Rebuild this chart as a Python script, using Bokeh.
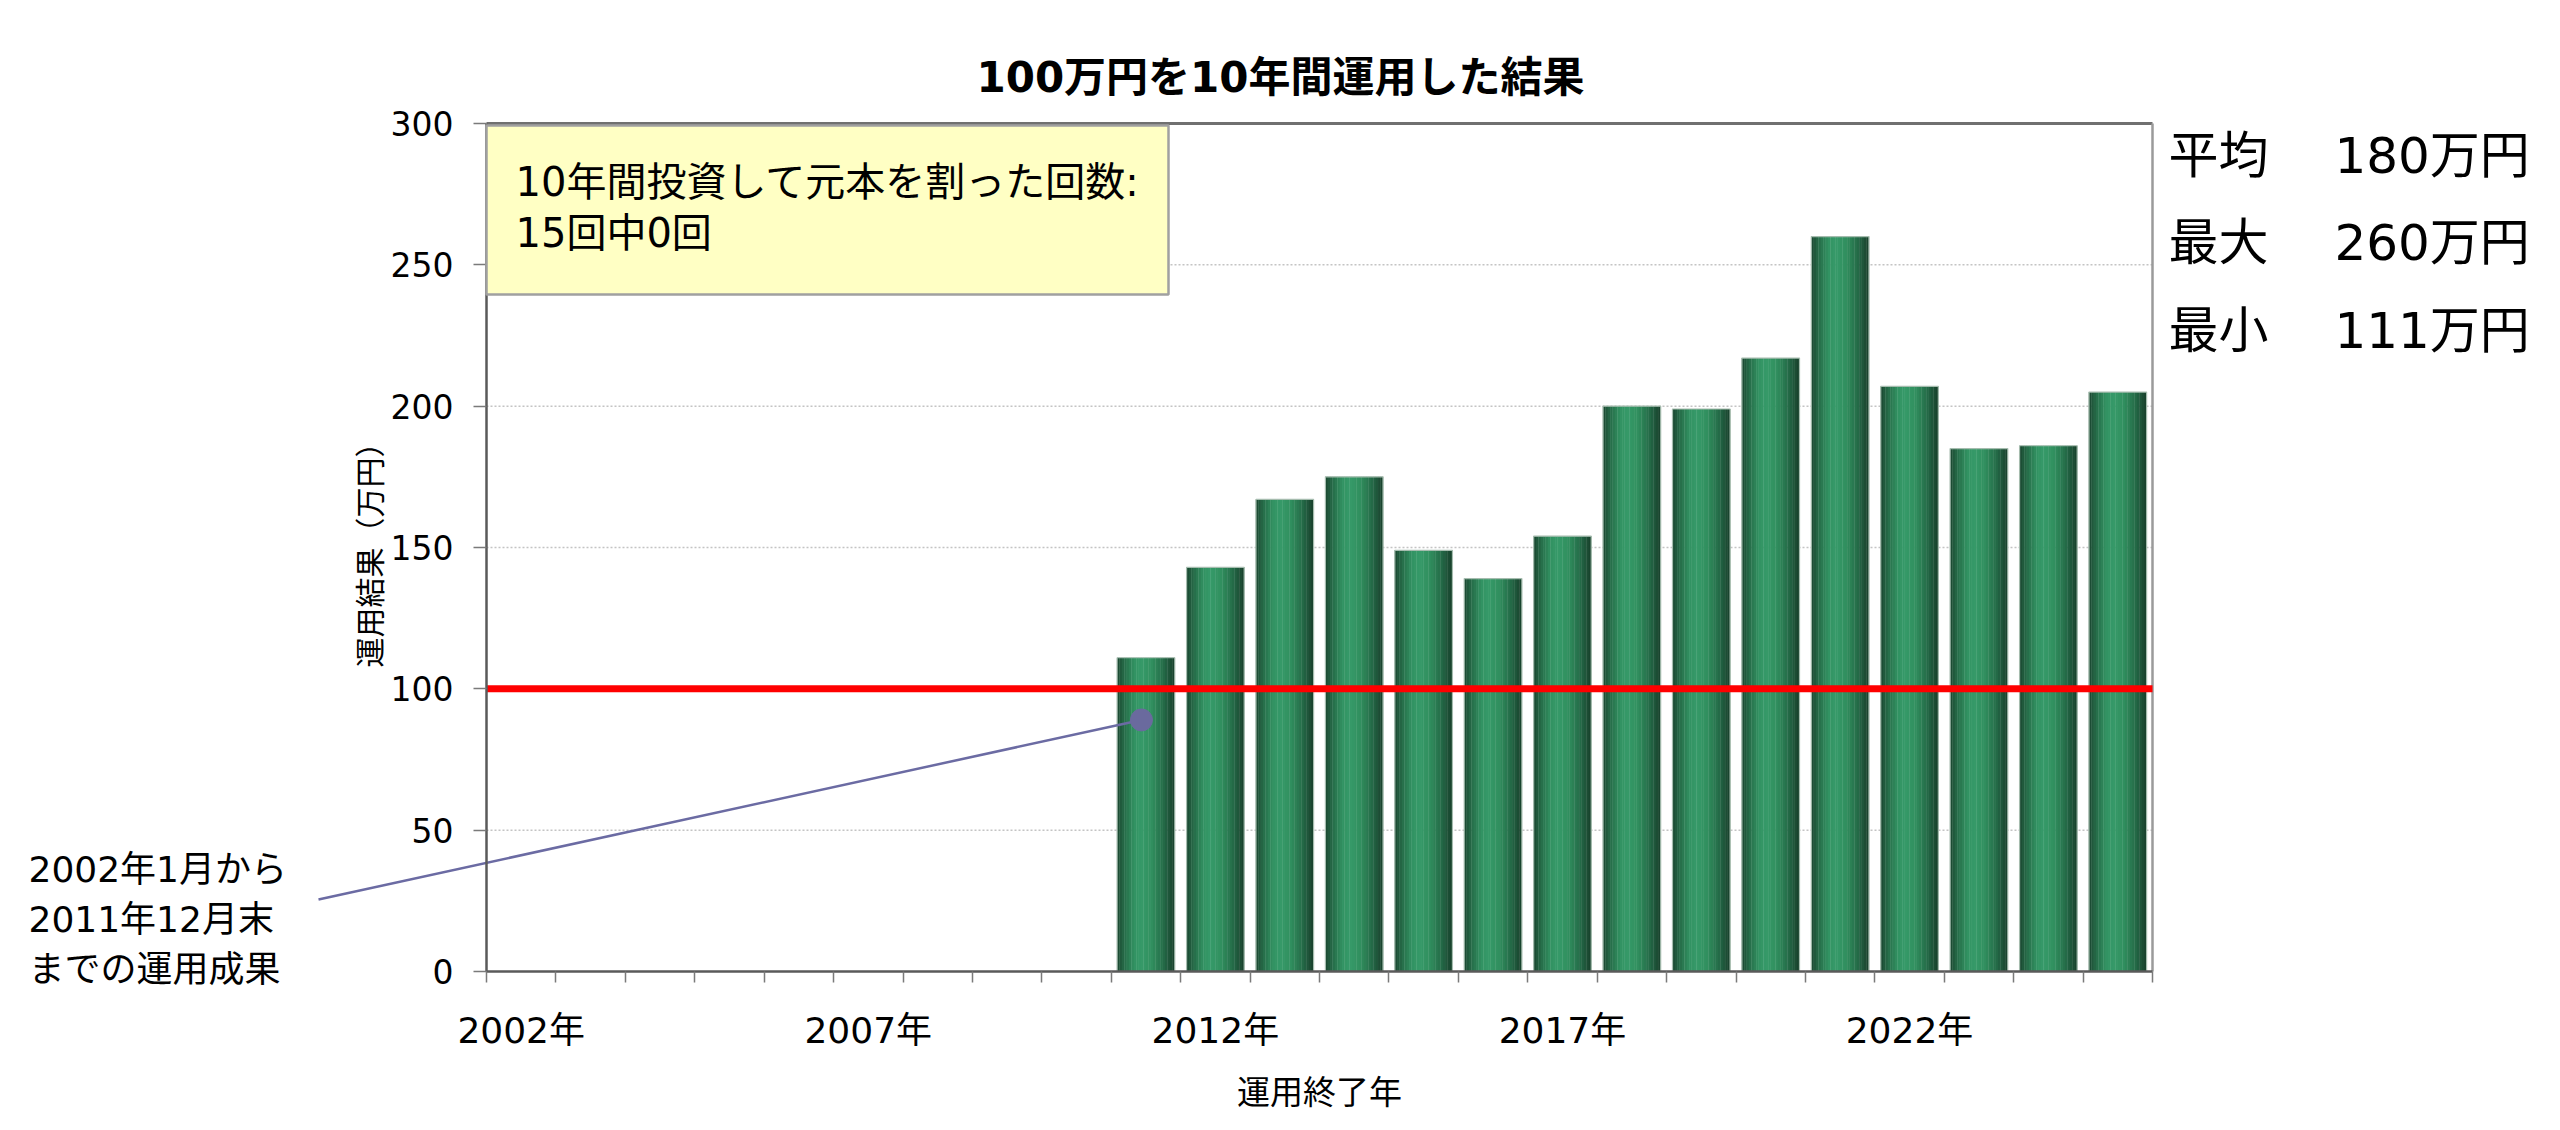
import numpy as np
from bokeh.plotting import figure
from bokeh.models import (Range1d, FixedTicker, BoxAnnotation, Label, CustomJSTickFormatter)
from bokeh.embed import file_html
from bokeh.resources import INLINE

# ---------------- data ----------------
first_year = 2002
last_year = 2025
end_years = [2011, 2012, 2013, 2014, 2015, 2016, 2017, 2018, 2019, 2020, 2021, 2022, 2023, 2024, 2025]
results = [111, 143, 167, 175, 149, 139, 154, 200, 199, 217, 260, 207, 185, 186, 205]
label_years = [2002, 2007, 2012, 2017, 2022]
y_ticks = [0, 50, 100, 150, 200, 250, 300]
principal = 100
title_text = "100万円を10年間運用した結果"
y_label = "運用結果（万円）"
x_label = "運用終了年"
callout_text = "2002年1月から\n2011年12月末\nまでの運用成果"
callout_year = 2011
callout_value = 89

FONT = "DejaVu Sans, Noto Sans CJK JP"

# ---------------- layout (pixel targets of the chart box) ----------------
W, H = 2560, 1130
TOP = 103                     # frame top (title sits above)
BOX_L, BOX_R = 486, 2152      # x pixel of slot 0 edge / last slot edge
BOX_T, BOX_B = 123, 971       # y pixel of 300 / 0

n_slots = last_year - first_year + 1
y_max = y_ticks[-1]
ppx = (BOX_R - BOX_L) / n_slots
ppy = (BOX_B - BOX_T) / y_max

def px2x(px):
    return (px - BOX_L) / ppx

def px2y(py):
    return (BOX_B - py) / ppy

xs = np.array([y - first_year + 0.5 for y in end_years], dtype=float)
vals = np.array(results, dtype=float)

below = int(np.sum(vals < principal))
note_text = f"10年間投資して元本を割った回数:\n{len(results)}回中{below}回"
stats = [("平均", round(float(vals.mean()))), ("最大", round(float(vals.max()))), ("最小", round(float(vals.min())))]

p = figure(width=W, height=H,
           x_range=Range1d(px2x(0), px2x(W)), y_range=Range1d(px2y(H), px2y(TOP)),
           output_backend="svg", toolbar_location=None,
           min_border_left=0, min_border_right=0, min_border_top=TOP, min_border_bottom=0)
p.background_fill_color = "white"
p.border_fill_color = "white"
p.outline_line_color = None
p.grid.visible = False

# title
p.title.text = title_text
p.title.text_font = FONT
p.title.text_font_size = "42px"
p.title.text_font_style = "bold"
p.title.align = "center"
p.title.standoff = 4
p.title.text_color = "#000000"

# y axis (fixed at x = 0)
ya = p.yaxis[0]
ya.fixed_location = 0
ya.bounds = (0, y_max)
ya.ticker = FixedTicker(ticks=y_ticks, minor_ticks=[])
ya.axis_line_color = "#5a5a5a"
ya.axis_line_width = 2.5
ya.major_tick_line_color = "#7a7a7a"
ya.major_tick_line_width = 1.5
ya.major_tick_out = 13
ya.major_tick_in = 0
ya.minor_tick_line_color = None
ya.major_label_text_font = FONT
ya.major_label_text_font_size = "33px"
ya.major_label_text_color = "#000000"
ya.major_label_standoff = 20
ya.axis_label = y_label
ya.axis_label_text_font = FONT
ya.axis_label_text_font_size = "30px"
ya.axis_label_text_font_style = "normal"
ya.axis_label_text_color = "#000000"
ya.axis_label_standoff = 0

# x axis (fixed at y = 0): labels at slot centers, tick marks at slot edges
xa = p.xaxis[0]
xa.fixed_location = 0
xa.bounds = (0, n_slots)
xa.ticker = FixedTicker(ticks=[y - first_year + 0.5 for y in label_years],
                        minor_ticks=list(range(n_slots + 1)))
xa.formatter = CustomJSTickFormatter(args=dict(y0=first_year),
                                     code="return (Math.round(tick - 0.5) + y0) + '年'")
xa.axis_line_color = "#5a5a5a"
xa.axis_line_width = 2.5
xa.major_tick_line_color = None
xa.major_tick_out = 11
xa.major_tick_in = 0
xa.minor_tick_line_color = "#7a7a7a"
xa.minor_tick_line_width = 1.5
xa.minor_tick_out = 11
xa.minor_tick_in = 0
xa.major_label_text_font = FONT
xa.major_label_text_font_size = "36px"
xa.major_label_text_color = "#000000"
xa.major_label_standoff = 27
xa.axis_label = x_label
xa.axis_label_text_font = FONT
xa.axis_label_text_font_size = "33px"
xa.axis_label_text_font_style = "normal"
xa.axis_label_text_color = "#000000"
xa.axis_label_standoff = 19

# horizontal dotted grid lines and chart-box border
grid_y = [t for t in y_ticks if 0 < t < y_max]
p.segment(x0=[0] * len(grid_y), x1=[n_slots] * len(grid_y), y0=grid_y, y1=grid_y,
          line_color="#c4c4c4", line_dash="2 2", line_width=1.5)
p.segment(x0=[0], x1=[n_slots], y0=[y_max], y1=[y_max], line_color="#707070", line_width=3)
p.segment(x0=[n_slots], x1=[n_slots], y0=[0], y1=[y_max], line_color="#9a9a9a", line_width=2.5)

# gradient bars (cylinder look)
bar_w = 0.83
stops = [(0.0, "#1a4630"), (0.12, "#256a47"), (0.3, "#329262"), (0.42, "#369a69"),
         (0.6, "#31905f"), (0.8, "#256d49"), (0.92, "#1d5137"), (1.0, "#17402b")]

def hex2rgb(h):
    return np.array([int(h[i:i + 2], 16) for i in (1, 3, 5)], dtype=float)

def color_at(t):
    for (t0, c0), (t1, c1) in zip(stops[:-1], stops[1:]):
        if t0 <= t <= t1:
            f = (t - t0) / (t1 - t0) if t1 > t0 else 0
            c = hex2rgb(c0) * (1 - f) + hex2rgb(c1) * f
            return "#%02x%02x%02x" % tuple(int(round(v)) for v in c)
    return stops[-1][1]

N = 24
for k in range(N):
    t = (k + 0.5) / N
    off = (t - 0.5) * bar_w
    p.vbar(x=xs + off, top=vals, bottom=0, width=bar_w / N * 1.15,
           fill_color=color_at(t), line_color=None)
p.vbar(x=xs, top=vals, bottom=0, width=bar_w, fill_color=None,
       line_color="#a5bcae", line_width=1.2)

# principal line
p.segment(x0=[0], x1=[n_slots], y0=[principal], y1=[principal], line_color="#ff0000", line_width=7)

# note box
p.add_layout(BoxAnnotation(left=0, right=px2x(1168), bottom=px2y(294), top=px2y(125),
                           fill_color="#ffffc4", fill_alpha=1.0,
                           line_color="#a0a0a0", line_width=2.5, line_alpha=1.0))
p.add_layout(Label(x=px2x(515), y=px2y(207), text=note_text, text_font=FONT, text_font_size="40px",
                   text_baseline="middle", text_align="left", text_line_height=1.1,
                   text_color="#000000"))

# callout
cx = callout_year - first_year + 0.435
p.segment(x0=[px2x(318)], y0=[px2y(899)], x1=[cx], y1=[callout_value],
          line_color="#6b6ba3", line_width=2.5)
p.scatter(x=[cx], y=[callout_value], size=22, fill_color="#6a6a9e", line_color="#6a6a9e")
p.add_layout(Label(x=px2x(28), y=px2y(919), text=callout_text, text_font=FONT, text_font_size="36px",
                   text_baseline="middle", text_align="left", text_line_height=1.22,
                   text_color="#000000"))

# stats at right
for (name, v), py in zip(stats, [155, 242, 330]):
    p.add_layout(Label(x=px2x(2168), y=px2y(py), text=f"{name}\u3000 {v}万円", text_font=FONT,
                       text_font_size="50px", text_baseline="middle", text_align="left",
                       text_color="#000000"))

open("out.html", "w").write(file_html(p, INLINE))
